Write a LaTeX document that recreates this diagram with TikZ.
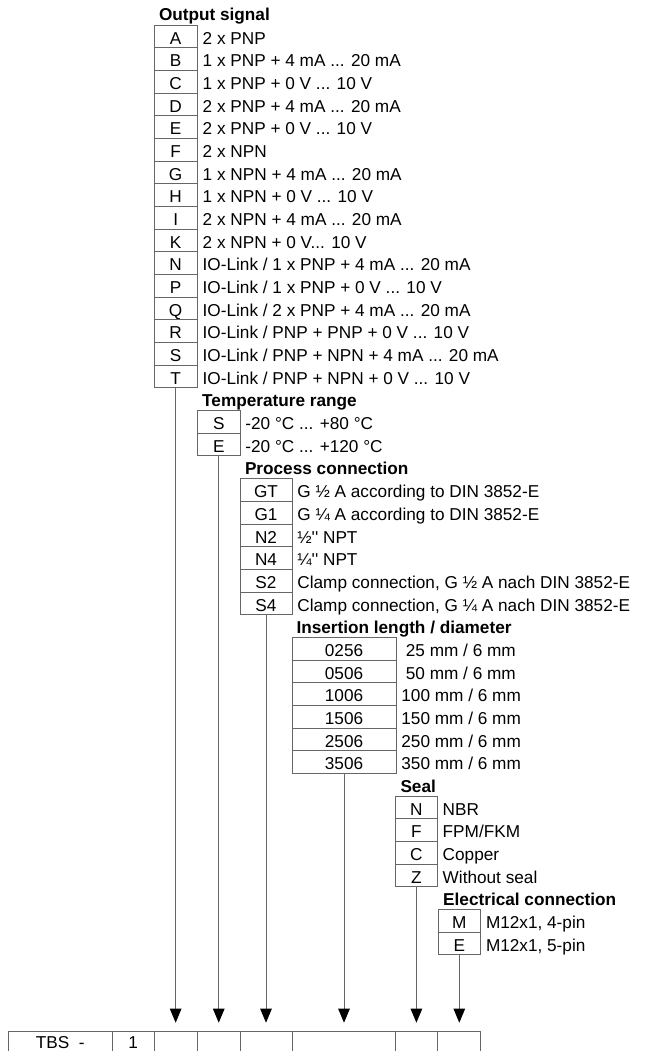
\documentclass[tikz,border=0pt]{standalone}
\usepackage{fontspec}
\newfontfamily\lsans{Liberation Sans}
\usetikzlibrary{arrows.meta,calc}
\tikzset{
  txtfont/.style={font=\lsans\fontsize{17.2}{20}\selectfont},
  codebox/.style={draw=black!60, line width=0.9pt, inner sep=0pt, outer sep=0pt,
    minimum height=22.68pt, text height=15.4pt, text depth=0pt, txtfont, anchor=north west},
  cell/.style={codebox, text height=12pt},
  desc/.style={inner sep=0pt, txtfont, anchor=base west},
  head/.style={inner sep=0pt, font=\lsans\bfseries\fontsize{17.2}{20}\selectfont, anchor=base west},
  conn/.style={draw=black!60, line width=0.9pt,
    -{Triangle[length=14pt,width=11.5pt,color=black]}, shorten >=8.3pt}
}
% #1 name, #2 left x, #3 row index, #4 box width, #5 code, #6 description
\newcommand\coderow[6]{%
  \node[codebox, minimum width=#4pt] (#1) at (#2,{25+#3*22.68}) {#5};
  \node[desc] (#1t) at ($(#1.north east)+(5.2,19.04)$) {#6};
}
\begin{document}
\begin{tikzpicture}[x=1pt,y=-1pt]
\useasboundingbox (0,0) rectangle (646,1051);
\clip (0,0) rectangle (646,1051);

% Output signal
\coderow{oA}{154}{0}{43.3}{A}{2 x PNP}
\coderow{oB}{154}{1}{43.3}{B}{1 x PNP + 4 mA ... 20 mA}
\coderow{oC}{154}{2}{43.3}{C}{1 x PNP + 0 V ... 10 V}
\coderow{oD}{154}{3}{43.3}{D}{2 x PNP + 4 mA ... 20 mA}
\coderow{oE}{154}{4}{43.3}{E}{2 x PNP + 0 V ... 10 V}
\coderow{oF}{154}{5}{43.3}{F}{2 x NPN}
\coderow{oG}{154}{6}{43.3}{G}{1 x NPN + 4 mA ... 20 mA}
\coderow{oH}{154}{7}{43.3}{H}{1 x NPN + 0 V ... 10 V}
\coderow{oI}{154}{8}{43.3}{I}{2 x NPN + 4 mA ... 20 mA}
\coderow{oK}{154}{9}{43.3}{K}{2 x NPN + 0 V... 10 V}
\coderow{oN}{154}{10}{43.3}{N}{IO-Link / 1 x PNP + 4 mA ... 20 mA}
\coderow{oP}{154}{11}{43.3}{P}{IO-Link / 1 x PNP + 0 V ... 10 V}
\coderow{oQ}{154}{12}{43.3}{Q}{IO-Link / 2 x PNP + 4 mA ... 20 mA}
\coderow{oR}{154}{13}{43.3}{R}{IO-Link / PNP + PNP + 0 V ... 10 V}
\coderow{oS}{154}{14}{43.3}{S}{IO-Link / PNP + NPN + 4 mA ... 20 mA}
\coderow{oT}{154}{15}{43.3}{T}{IO-Link / PNP + NPN + 0 V ... 10 V}
\node[head] (hout) at ($(oA.north west)+(4.8,-4)$) {Output signal};

% Temperature range
\coderow{tS}{197.5}{17}{42.5}{S}{-20 °C ... +80 °C}
\coderow{tE}{197.5}{18}{42.5}{E}{-20 °C ... +120 °C}
\node[head] (htemp) at ($(tS.north west)+(4.5,-4)$) {Temperature range};

% Process connection
\coderow{pGT}{240}{20}{52}{GT}{G ½ A according to DIN 3852-E}
\coderow{pGa}{240}{21}{52}{G1}{G ¼ A according to DIN 3852-E}
\coderow{pNb}{240}{22}{52}{N2}{½'' NPT}
\coderow{pNd}{240}{23}{52}{N4}{¼'' NPT}
\coderow{pSb}{240}{24}{52}{S2}{Clamp connection, G ½ A nach DIN 3852-E}
\coderow{pSd}{240}{25}{52}{S4}{Clamp connection, G ¼ A nach DIN 3852-E}
\node[head] (hproc) at ($(pGT.north west)+(4.8,-4)$) {Process connection};

% Insertion length / diameter
\coderow{iA}{292}{27}{104}{0256}{\hspace{4.5pt}25 mm / 6 mm}
\coderow{iB}{292}{28}{104}{0506}{\hspace{4.5pt}50 mm / 6 mm}
\coderow{iC}{292}{29}{104}{1006}{100 mm / 6 mm}
\coderow{iD}{292}{30}{104}{1506}{150 mm / 6 mm}
\coderow{iE}{292}{31}{104}{2506}{250 mm / 6 mm}
\coderow{iF}{292}{32}{104}{3506}{350 mm / 6 mm}
\node[head] (hins) at ($(iA.north west)+(4.3,-4)$) {Insertion length / diameter};

% Seal
\coderow{sN}{395.5}{34}{41.8}{N}{NBR}
\coderow{sF}{395.5}{35}{41.8}{F}{FPM/FKM}
\coderow{sC}{395.5}{36}{41.8}{C}{Copper}
\coderow{sZ}{395.5}{37}{41.8}{Z}{Without seal}
\node[head] (hseal) at ($(sN.north west)+(4.8,-4)$) {Seal};

% Electrical connection
\coderow{eM}{438}{39}{42.6}{M}{M12x1, 4-pin}
\coderow{eE}{438}{40}{42.6}{E}{M12x1, 5-pin}
\node[head] (helec) at ($(eM.north west)+(5,-4)$) {Electrical connection};

% Type code row
\node[cell, minimum width=104pt]  (c1) at (8.3,1031)   {TBS\hspace{9.5pt}-};
\node[cell, minimum width=41.7pt] (c2) at (112.3,1031) {1};
\node[cell, minimum width=43pt]   (c3) at (154,1031)   {};
\node[cell, minimum width=43.2pt] (c4) at (197,1031)   {};
\node[cell, minimum width=51.8pt] (c5) at (240.2,1031) {};
\node[cell, minimum width=103.5pt](c6) at (292,1031)   {};
\node[cell, minimum width=42pt]   (c7) at (395.5,1031) {};
\node[cell, minimum width=42.5pt] (c8) at (437.5,1031) {};

% Connectors
\draw[conn] (oT.south) -- (oT.south |- c3.north);
\draw[conn] (tE.south) -- (tE.south |- c4.north);
\draw[conn] (pSd.south) -- (pSd.south |- c5.north);
\draw[conn] (iF.south) -- (iF.south |- c6.north);
\draw[conn] (sZ.south) -- (sZ.south |- c7.north);
\draw[conn] (eE.south) -- (eE.south |- c8.north);
\end{tikzpicture}
\end{document}
